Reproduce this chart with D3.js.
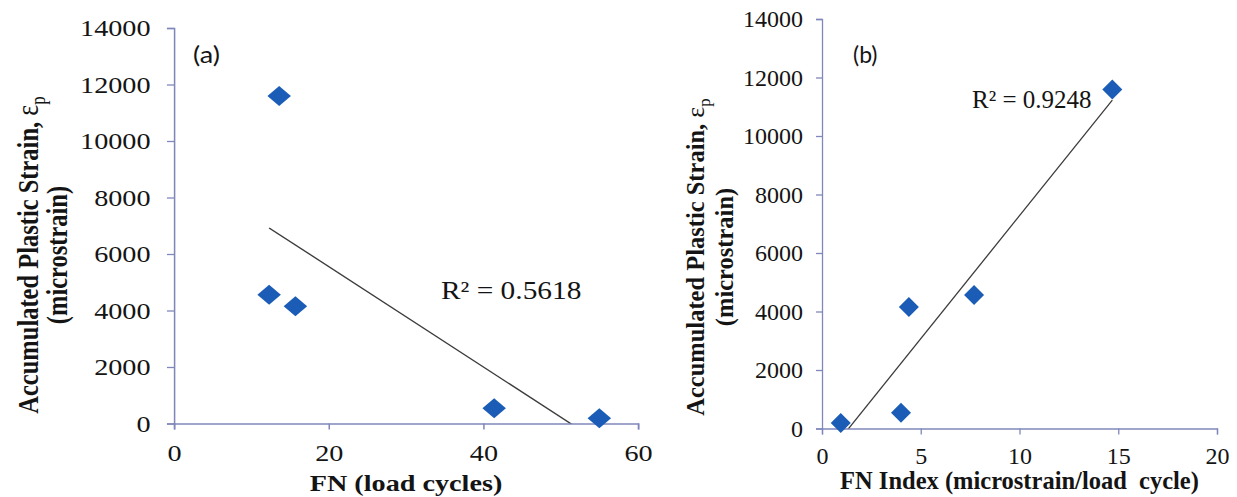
<!DOCTYPE html>
<html>
<head>
<meta charset="utf-8">
<script src="https://cdn.jsdelivr.net/npm/d3@7"></script>
<style>
  html, body { margin: 0; padding: 0; background: #fff; }
  svg { display: block; }
  text { font-family: "Liberation Serif", "Times New Roman", serif; fill: #141414; }
</style>
</head>
<body>
<svg id="chart" width="1237" height="497"></svg>
<script>
// Flow number (load cycles) for each mix
const fnCycles = [13.6, 12.3, 15.7, 41.4, 55.0];
// Flow number index (microstrain / load cycle) for the same mixes
const fnIndex = [14.7, 7.7, 4.4, 4.0, 0.95];
// Accumulated plastic strain (microstrain)
const plasticStrain = [11590, 4560, 4150, 540, 190];

const strainTicks = [0, 2000, 4000, 6000, 8000, 10000, 12000, 14000];
const fnTicks = [0, 20, 40, 60];
const fnIndexTicks = [0, 5, 10, 15, 20];
const panelTags = ["(a)", "(b)"];
const r2Labels = ["R² = 0.5618", "R² = 0.9248"];
const xTitles = ["FN (load cycles)", "FN Index (microstrain/load  cycle)"];

const svg = d3.select("#chart");
const axisColor = "#8088bb";
const markerColor = "#1b5db6";

// least-squares fit y = a + b x
function linearFit(xs, ys) {
  const mx = d3.mean(xs), my = d3.mean(ys);
  let sxy = 0, sxx = 0;
  xs.forEach((x, i) => { sxy += (x - mx) * (ys[i] - my); sxx += (x - mx) ** 2; });
  const b = sxy / sxx;
  return { a: my - b * mx, b };
}

function drawPanel(cfg) {
  const g = svg.append("g").attr("transform", cfg.transform);
  const x = d3.scaleLinear().domain(cfg.xDomain).range(cfg.xRange);
  const y = d3.scaleLinear().domain([0, 14000]).range(cfg.yRange);

  // clip region for the trend line
  g.append("clipPath").attr("id", cfg.id + "-clip")
    .append("rect")
    .attr("x", cfg.xRange[0]).attr("y", cfg.yRange[1])
    .attr("width", cfg.xRange[1] - cfg.xRange[0])
    .attr("height", cfg.yRange[0] - cfg.yRange[1]);

  const yAxis = d3.axisLeft(y).tickValues(strainTicks).tickSize(6).tickPadding(cfg.yPad).tickFormat(d3.format("d"));
  const xAxis = d3.axisBottom(x).tickValues(cfg.xTicks).tickSize(6).tickPadding(cfg.xPad).tickFormat(d3.format("d"));

  const ya = g.append("g").attr("transform", `translate(${cfg.xRange[0]},0)`).call(yAxis);
  const xa = g.append("g").attr("transform", `translate(0,${cfg.yRange[0]})`).call(xAxis);
  [ya, xa].forEach(a => {
    a.selectAll("path, line").attr("stroke", axisColor).attr("stroke-width", 1.3);
    a.selectAll("text").attr("font-size", 24).attr("fill", "#141414")
      .attr("font-family", "Liberation Serif, serif");
  });

  // trend line over the data range
  const fit = linearFit(cfg.xs, plasticStrain);
  const x0 = d3.min(cfg.xs), x1 = d3.max(cfg.xs);
  g.append("line")
    .attr("clip-path", `url(#${cfg.id}-clip)`)
    .attr("x1", x(x0)).attr("y1", y(fit.a + fit.b * x0))
    .attr("x2", x(x1)).attr("y2", y(fit.a + fit.b * x1))
    .attr("stroke", "#3c3c3c").attr("stroke-width", 1.3);

  // diamond markers
  const diamond = d3.symbol().type(d3.symbolSquare).size(200);
  g.selectAll("path.pt").data(cfg.xs).join("path")
    .attr("class", "pt")
    .attr("d", diamond)
    .attr("transform", (d, i) => `translate(${x(d)},${y(plasticStrain[i])}) rotate(45)`)
    .attr("fill", markerColor);

  // panel tag
  g.append("text").attr("x", cfg.tagPos[0]).attr("y", cfg.tagPos[1])
    .attr("font-size", 23)
    .style("font-family", "Lato, 'Open Sans', sans-serif")
    .text(cfg.tag);

  // R² annotation
  g.append("text").attr("x", cfg.r2Pos[0]).attr("y", cfg.r2Pos[1])
    .attr("font-size", 25).text(cfg.r2);

  // x axis title
  g.append("text")
    .attr("x", (cfg.xRange[0] + cfg.xRange[1]) / 2).attr("y", cfg.xTitleY)
    .attr("text-anchor", "middle").attr("font-size", cfg.xTitleSize).attr("font-weight", "bold")
    .style("white-space", "pre")
    .text(cfg.xTitle);

  // y axis title (two lines)
  const yt = g.append("g").attr("transform", `translate(${cfg.yTitleX},${cfg.yTitleMid}) rotate(-90)`);
  const l1 = yt.append("text").attr("x", 0).attr("y", 0).attr("text-anchor", "middle")
    .attr("font-size", 24.5).attr("font-weight", "bold");
  l1.append("tspan").text("Accumulated Plastic Strain, ");
  l1.append("tspan").attr("font-weight", "normal").attr("font-size", 26).text("ε");
  l1.append("tspan").attr("font-weight", "normal").attr("font-size", 17).attr("dy", 6).text("p");
  yt.append("text").attr("x", 0).attr("y", cfg.yTitleGap).attr("text-anchor", "middle")
    .attr("font-size", 24.5).attr("font-weight", "bold").text("(microstrain)");
}

// panel (a) is drawn horizontally stretched
const sxA = 1.175;
drawPanel({
  id: "pa",
  transform: `scale(${sxA},1)`,
  xs: fnCycles,
  xDomain: [0, 60], xRange: [174 / sxA, 638 / sxA], yRange: [423.5, 28],
  xTicks: fnTicks, yPad: 14, xPad: 14,
  tag: panelTags[0], tagPos: [193 / sxA, 63],
  r2: r2Labels[0], r2Pos: [441 / sxA, 299],
  xTitle: xTitles[0], xTitleY: 491, xTitleSize: 24,
  yTitleX: 38 / sxA, yTitleMid: 255, yTitleGap: 29 / sxA
});

drawPanel({
  id: "pb",
  transform: "",
  xs: fnIndex,
  xDomain: [0, 20], xRange: [822, 1217], yRange: [428.5, 19],
  xTicks: fnIndexTicks, yPad: 13, xPad: 12,
  tag: panelTags[1], tagPos: [853, 63],
  r2: r2Labels[1], r2Pos: [972, 108],
  xTitle: xTitles[1], xTitleY: 489, xTitleSize: 24.5,
  yTitleX: 704, yTitleMid: 257, yTitleGap: 29
});
</script>
</body>
</html>
